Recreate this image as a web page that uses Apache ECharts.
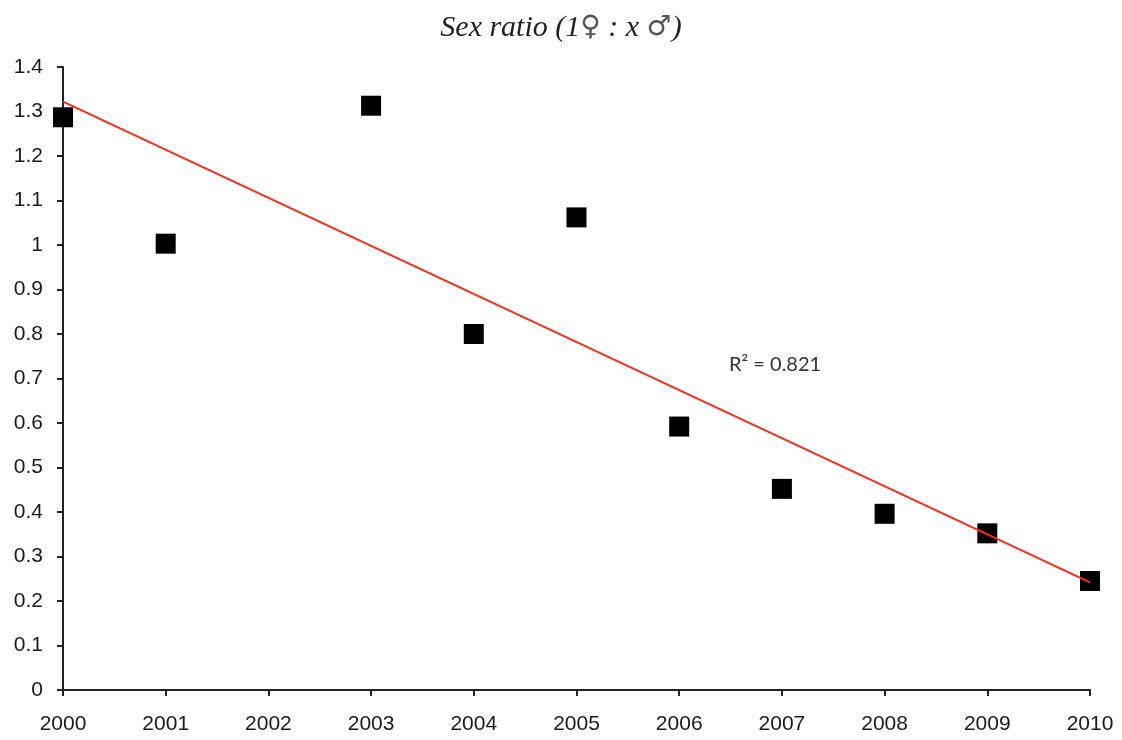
<!DOCTYPE html>
<html>
<head>
<meta charset="utf-8">
<script src="https://cdn.jsdelivr.net/npm/echarts@6/dist/echarts.min.js"></script>
<style>html,body{margin:0;padding:0;background:#fff}#c{width:1122px;height:740px}</style>
</head>
<body>
<div id="c"></div>
<script>
const years = [2000, 2001, 2003, 2004, 2005, 2006, 2007, 2008, 2009, 2010];
const sexRatio = [1.287, 1.003, 1.313, 0.80, 1.062, 0.592, 0.452, 0.396, 0.352, 0.245];
const trendYears = [2000, 2010];
const trendValues = [1.322, 0.242];
const titleParts = ['Sex ratio (1', '\u2640', ' : x ', '\u2642', ')'];
const r2Text = 'R\u00B2 = 0.821';

const chart = echarts.init(document.getElementById('c'));
chart.setOption({
  animation: false,
  backgroundColor: '#fff',
  title: {
    text: '{t|' + titleParts[0] + '}{s|' + titleParts[1] + '}{t|' + titleParts[2] + '}{s|' + titleParts[3] + '}{t|' + titleParts[4] + '}',
    left: 'center',
    top: 8,
    textStyle: {
      fontWeight: 'normal',
      rich: {
        t: { fontFamily: 'Liberation Serif, serif', fontStyle: 'italic', fontWeight: 'normal', fontSize: 30, color: '#222' },
        s: { fontFamily: 'DejaVu Sans, sans-serif', fontWeight: 'normal', fontSize: 28, color: '#555' }
      }
    }
  },
  grid: { left: 63, right: 32, top: 67, bottom: 50 },
  xAxis: {
    type: 'value', min: 2000, max: 2010, interval: 1,
    axisLine: { onZero: false, lineStyle: { color: '#222', width: 2 } },
    axisTick: { show: true, length: 6, lineStyle: { color: '#222', width: 2 } },
    axisLabel: { color: '#1a1a1a', fontSize: 21, fontFamily: 'Liberation Sans, Arial, sans-serif', margin: 24, formatter: v => String(v) },
    splitLine: { show: false }
  },
  yAxis: {
    type: 'value', min: 0, max: 1.4, interval: 0.1,
    axisLine: { show: true, onZero: false, lineStyle: { color: '#222', width: 2 } },
    axisTick: { show: true, length: 6, lineStyle: { color: '#222', width: 2 } },
    axisLabel: { color: '#1a1a1a', fontSize: 21, fontFamily: 'Liberation Sans, Arial, sans-serif', margin: 20 },
    splitLine: { show: false }
  },
  series: [
    {
      type: 'scatter', symbol: 'rect', symbolSize: 20, z: 2,
      itemStyle: { color: '#000', opacity: 1 },
      data: years.map((y, i) => [y, sexRatio[i]])
    },
    {
      type: 'line', showSymbol: false, symbol: 'none', z: 3,
      lineStyle: { color: '#ff2a14', width: 2 },
      data: trendYears.map((y, i) => [y, trendValues[i]])
    }
  ],
  graphic: [{
    type: 'text', left: 729, top: 355,
    style: { text: r2Text, fontSize: 20, fontFamily: 'Lato, Open Sans, sans-serif', fill: '#333' }
  }]
});
</script>
</body>
</html>
